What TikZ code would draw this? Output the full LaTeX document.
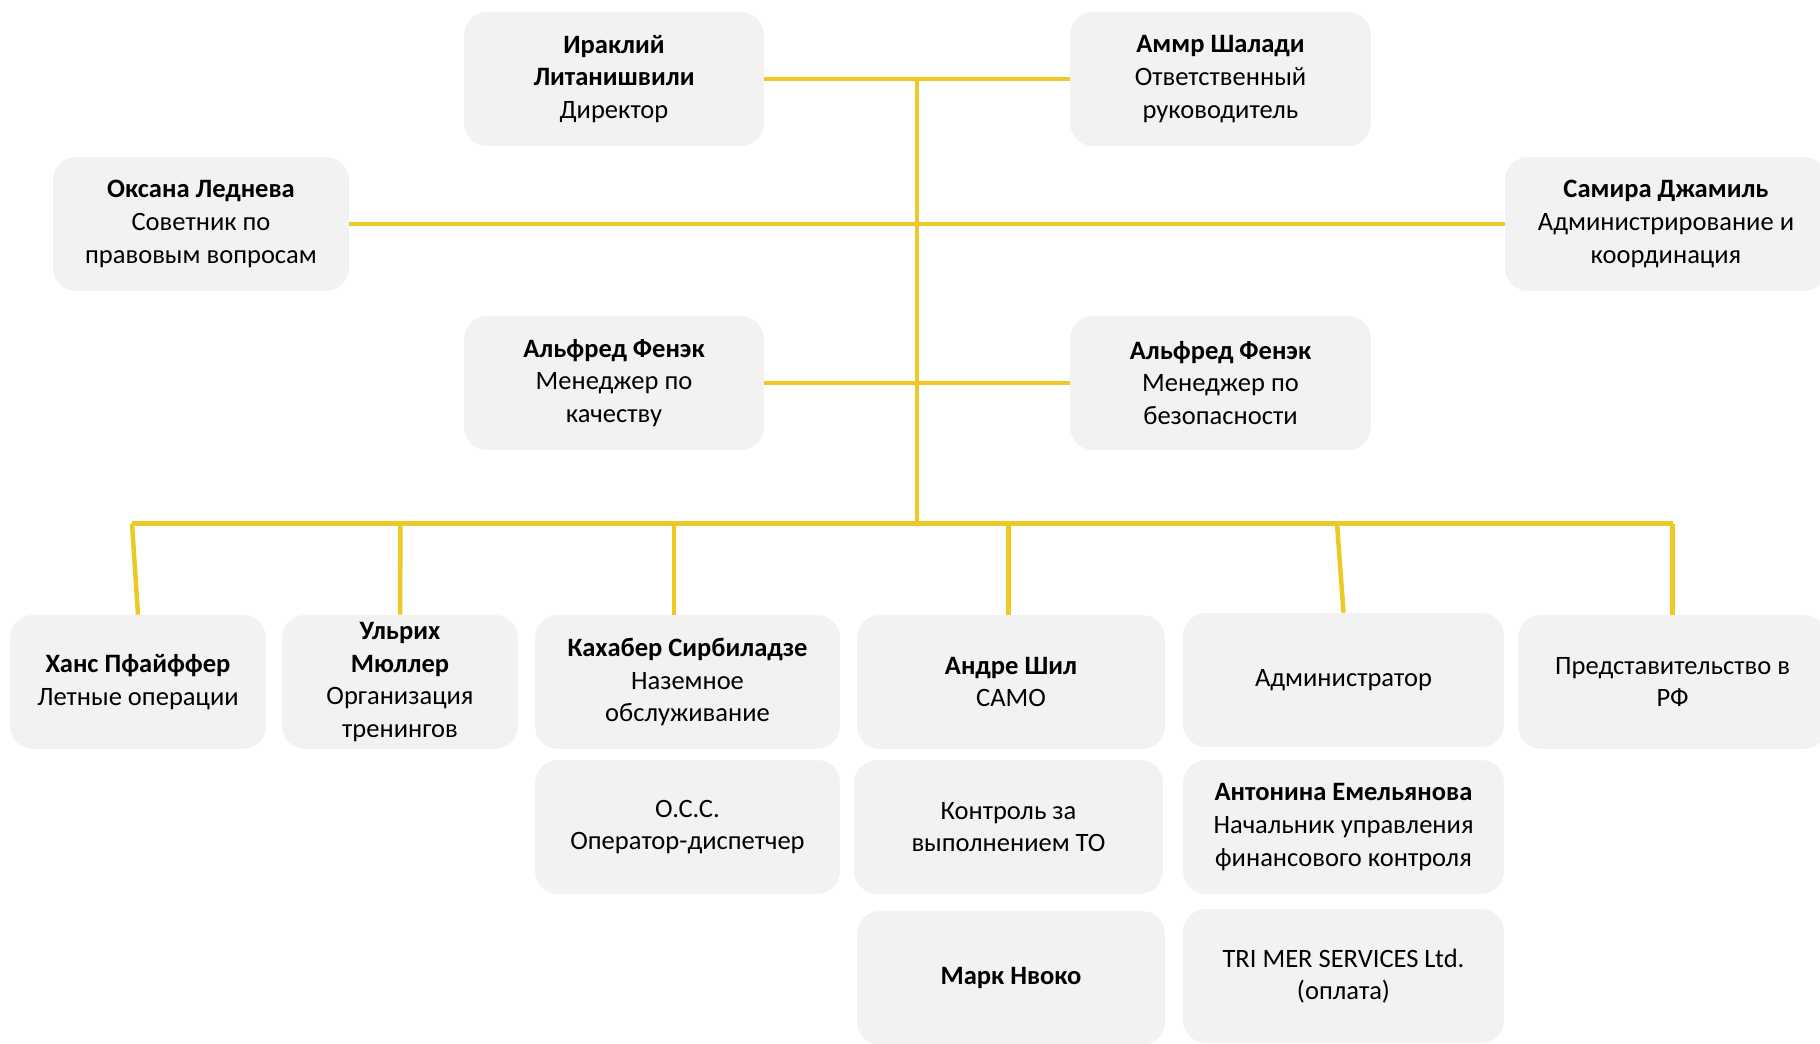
\documentclass[tikz,border=0pt]{standalone}
\usepackage{fontspec}
\setmainfont{Carlito}
\definecolor{boxgray}{HTML}{F2F2F2}
\definecolor{linkyellow}{HTML}{EEC925}

\begin{document}
\begin{tikzpicture}[x=0.02cm, y=-0.02cm,
	box/.style={fill=boxgray, rounded corners=0.46cm, minimum height=2.68cm, inner sep=0pt, align=center, font={\fontsize{15.1}{18.6}\selectfont}},
	link/.style={draw=linkyellow, line width=0.09cm}]
	\useasboundingbox (0,0) rectangle (1820,1044);
	\clip (0,0) rectangle (1820,1044);
	\node[box, minimum width=6cm] (irakliy) at (614,79) {\textbf{Ираклий}\\\textbf{Литанишвили}\\Директор};
	\node[box, minimum width=6.02cm] (ammr) at (1220.5,79) {\textbf{Аммр Шалади}\\Ответственный\\руководитель};
	\node[box, minimum width=5.92cm] (oksana) at (201,224) {\textbf{Оксана Леднева}\\Советник по\\правовым вопросам};
	\node[box, minimum width=6.44cm] (samira) at (1666,224) {\textbf{Самира Джамиль}\\Администрирование и\\координация};
	\node[box, minimum width=6cm] (fenek1) at (614,383) {\textbf{Альфред Фенэк}\\Менеджер по\\качеству};
	\node[box, minimum width=6.02cm] (fenek2) at (1220.5,383) {\textbf{Альфред Фенэк}\\Менеджер по\\безопасности};
	\node[box, minimum width=5.12cm] (hans) at (138,682) {\textbf{Ханс Пфайффер}\\Летные операции};
	\node[box, minimum width=4.72cm] (ulrich) at (400,682) {\textbf{Ульрих}\\\textbf{Мюллер}\\Организация\\тренингов};
	\node[box, minimum width=6.1cm] (kakhaber) at (687.5,682) {\textbf{Кахабер Сирбиладзе}\\Наземное\\обслуживание};
	\node[box, minimum width=6.16cm] (andre) at (1011,682) {\textbf{Андре Шил}\\CAMO};
	\node[box, minimum width=6.42cm] (admin) at (1343.5,680) {Администратор};
	\node[box, minimum width=6.18cm] (predst) at (1672.6,682) {Представительство в\\РФ};
	\node[box, minimum width=6.1cm] (occ) at (687.5,827) {O.C.C.\\Оператор-диспетчер};
	\node[box, minimum width=6.18cm] (kontrol) at (1008.5,827) {Контроль за\\выполнением ТО};
	\node[box, minimum width=6.42cm] (antonina) at (1343.5,827) {\textbf{Антонина Емельянова}\\Начальник управления\\финансового контроля};
	\node[box, minimum width=6.16cm] (mark) at (1011,978) {\textbf{Марк Нвоко}};
	\node[box, minimum width=6.42cm] (trimer) at (1343.5,976) {TRI MER SERVICES Ltd.\\(оплата)};
	\coordinate (top) at (917,78);
	\coordinate (hub) at (917,523.5);
	\coordinate (b1) at (132,523.5);
	\coordinate (b2) at (400.5,523.5);
	\coordinate (b3) at (674,523.5);
	\coordinate (b4) at (1008.6,523.5);
	\coordinate (b5) at (1337,523.5);
	\coordinate (b6) at (1672.6,523.5);
	\draw[link] (irakliy) -- (ammr);
	\draw[link] (top) -- (hub);
	\draw[link] (oksana) -- (samira);
	\draw[link] (fenek1) -- (fenek2);
	\draw[link] (b1) -- (b6);
	\draw[link] (b1) -- (hans.north);
	\draw[link] (b2) -- (ulrich.north);
	\draw[link] (b3) -- (b3 |- kakhaber.north);
	\draw[link] (b4) -- (b4 |- andre.north);
	\draw[link] (b5) -- (admin.north);
	\draw[link] (b6) -- (predst.north);
\end{tikzpicture}
\end{document}
